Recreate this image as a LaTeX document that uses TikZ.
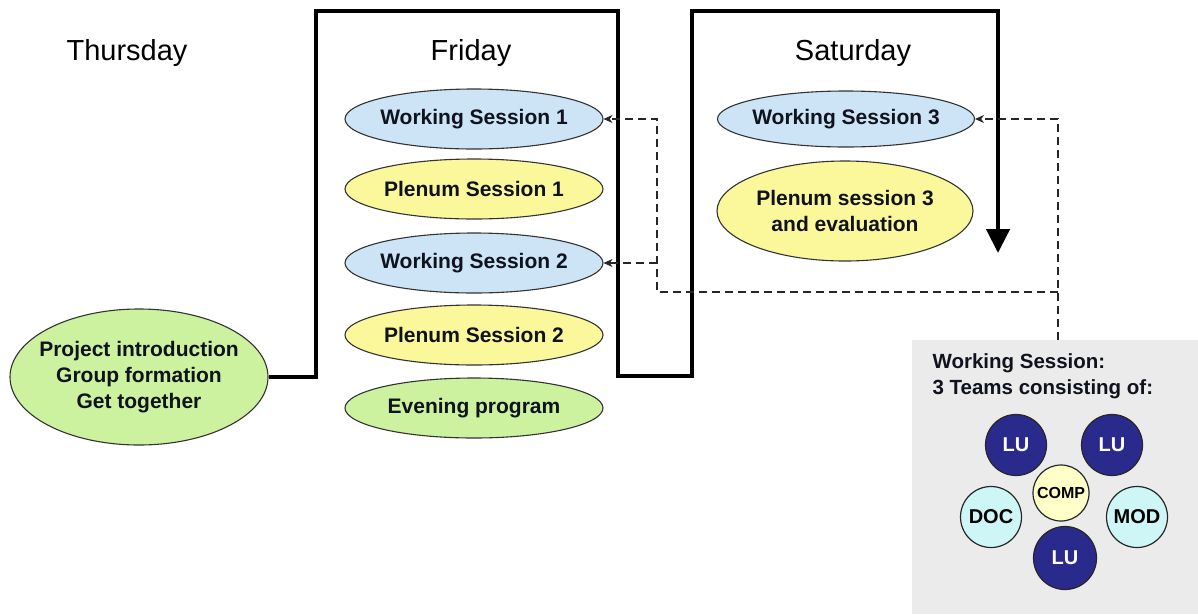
\documentclass[tikz,border=0pt]{standalone}
\usepackage{fontspec}
\setmainfont{Liberation Sans}
\usetikzlibrary{shapes.geometric,arrows.meta}
\definecolor{wsblue}{HTML}{CCE4F6}
\definecolor{plyellow}{HTML}{FBF89C}
\definecolor{evgreen}{HTML}{CCF2A0}
\definecolor{teamnavy}{HTML}{2A2A8C}
\definecolor{cyanlt}{HTML}{CEF6F6}
\definecolor{yellt}{HTML}{FFFFC8}
\definecolor{boxgray}{HTML}{EBEBEB}
\definecolor{inktext}{HTML}{10121E}
\begin{document}
\begin{tikzpicture}[x=1pt,y=-1pt,
  sess/.style={ellipse,draw=black!80,line width=1.1pt,minimum width=258pt,minimum height=60pt,inner sep=0pt},
  sesstext/.style={inner sep=0pt,text=inktext,font=\fontsize{21}{26}\selectfont\bfseries,align=center},
  wsess/.style={sess,fill=wsblue},
  psess/.style={sess,fill=plyellow},
  gsess/.style={sess,fill=evgreen},
  daylabel/.style={anchor=base,font=\fontsize{29}{34}\selectfont,text=black},
  daypath/.style={line width=4.5pt,line join=miter,draw=black},
  dashlink/.style={line width=1.3pt,dash pattern=on 8pt off 5pt,draw=black!85},
  dasharrow/.style={dashlink,-{Stealth[length=9pt,width=8pt]}},
  team/.style={circle,draw=black!85,line width=1.2pt,minimum size=61pt,inner sep=0pt,font=\fontsize{20}{24}\selectfont\bfseries},
  lu/.style={team,fill=teamnavy,text=white},
  boxtext/.style={anchor=base west,font=\fontsize{20.5}{25}\selectfont\bfseries,text=inktext}
]
\useasboundingbox (0,0) rectangle (1198,614);
\fill[white] (0,0) rectangle (1198,614);

% day labels
\node[daylabel] (thu) at (127,60) {Thursday};
\node[daylabel] (fri) at (471,60) {Friday};
\node[daylabel] (sat) at (853,60) {Saturday};

% Thursday
\node[gsess,minimum height=136pt,label={[sesstext]center:Project introduction\\Group formation\\Get together}] (proj) at (139,377) {};

% Friday
\node[wsess,label={[sesstext]center:Working Session 1}] (ws1) at (474,119) {};
\node[psess,label={[sesstext]center:Plenum Session 1}] (pl1) at (474,189) {};
\node[wsess,label={[sesstext]center:Working Session 2}] (ws2) at (474,263) {};
\node[psess,label={[sesstext]center:Plenum Session 2}] (pl2) at (474,335) {};
\node[gsess,label={[sesstext]center:Evening program}] (eve) at (474,408) {};

% Saturday
\node[wsess,minimum width=257pt,minimum height=56pt,label={[sesstext]center:Working Session 3}] (ws3) at (846,119) {};
\node[psess,minimum width=256pt,minimum height=100pt,label={[sesstext]center:Plenum session 3\\and evaluation}] (pl3) at (845,211) {};

% timeline
\coordinate (tlend) at (998,253);
\draw[daypath,-{Triangle[length=24pt,width=23pt]}] (proj.east) -- (316,377) -- (316,11) -- (618,11)
  -- (618,376) -- (692,376) -- (692,11) -- (998,11) -- (tlend);

% team box
\fill[boxgray] (912,340) rectangle (1198,614);
\node[boxtext] (bt1) at (929,368) {Working Session:};
\node[boxtext] (bt2) at (929,394) {3 Teams consisting of:};
\node[lu] (lu1) at (1016,445) {LU};
\node[lu] (lu2) at (1112,445) {LU};
\node[team,fill=yellt,minimum size=56pt,font=\fontsize{16}{19}\selectfont\bfseries] (comp) at (1061,493) {COMP};
\node[team,fill=cyanlt] (doc) at (991,517) {DOC};
\node[team,fill=cyanlt] (mod) at (1137,517) {MOD};
\node[lu,minimum size=63pt] (lu3) at (1065,558) {LU};

% dashed links
\coordinate (boxtop) at (1058,340);
\coordinate (jr) at (1058,292);
\coordinate (jl) at (657,292);
\draw[dasharrow] (boxtop) |- (ws3.east);
\draw[dasharrow] (jr) -- (jl) |- (ws1.east);
\draw[dasharrow] (jl |- ws2.east) -- (ws2.east);
\end{tikzpicture}
\end{document}
